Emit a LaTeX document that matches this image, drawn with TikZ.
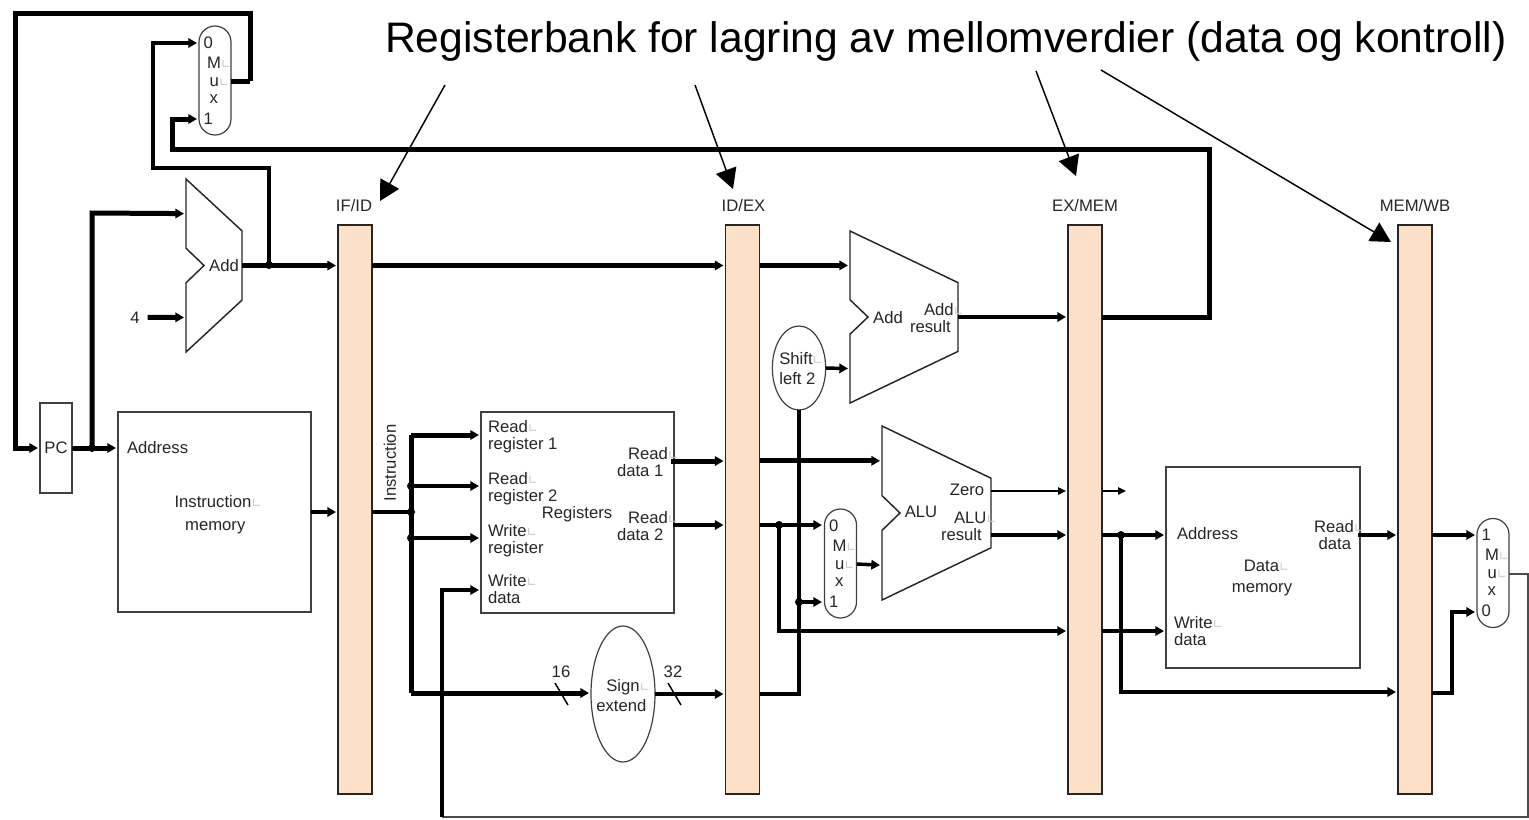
\documentclass[tikz,border=0pt]{standalone}
\usepackage{fontspec}
\setmainfont{Liberation Sans}
\newfontfamily\symfont{DejaVu Sans}
\usetikzlibrary{arrows.meta,shapes.geometric,calc}
\makeatletter
\pgfdeclareshape{adderbox}{%
  \inheritsavedanchors[from=rectangle]
  \inheritanchorborder[from=rectangle]
  \inheritanchor[from=rectangle]{center}
  \inheritanchor[from=rectangle]{north}
  \inheritanchor[from=rectangle]{south}
  \inheritanchor[from=rectangle]{east}
  \inheritanchor[from=rectangle]{west}
  \anchor{upper}{\southwest\pgf@xa=\pgf@x\pgf@yb=\pgf@y\northeast\pgf@ya=\pgf@y
    \pgf@x=\pgf@xa\pgf@y=\dimexpr0.8\pgf@ya+0.2\pgf@yb\relax}
  \anchor{lower}{\southwest\pgf@xa=\pgf@x\pgf@yb=\pgf@y\northeast\pgf@ya=\pgf@y
    \pgf@x=\pgf@xa\pgf@y=\dimexpr0.2\pgf@ya+0.8\pgf@yb\relax}
  \backgroundpath{%
    \southwest\edef\my@ax{\the\pgf@x}\edef\my@ay{\the\pgf@y}%
    \northeast\edef\my@bx{\the\pgf@x}\edef\my@by{\the\pgf@y}%
    \edef\my@n{\the\dimexpr\my@ax+13.5pt\relax}%
    \edef\my@m{\the\dimexpr(\my@ay+\my@by)/2\relax}%
    \edef\my@na{\the\dimexpr(\my@by*6+\my@ay*4)/10\relax}%
    \edef\my@nb{\the\dimexpr(\my@by*4+\my@ay*6)/10\relax}%
    \edef\my@ra{\the\dimexpr(\my@by*7+\my@ay*3)/10\relax}%
    \edef\my@rb{\the\dimexpr(\my@by*3+\my@ay*7)/10\relax}%
    \pgfpathmoveto{\pgfqpoint{\my@ax}{\my@by}}%
    \pgfpathlineto{\pgfqpoint{\my@bx}{\my@ra}}%
    \pgfpathlineto{\pgfqpoint{\my@bx}{\my@rb}}%
    \pgfpathlineto{\pgfqpoint{\my@ax}{\my@ay}}%
    \pgfpathlineto{\pgfqpoint{\my@ax}{\my@nb}}%
    \pgfpathlineto{\pgfqpoint{\my@n}{\my@m}}%
    \pgfpathlineto{\pgfqpoint{\my@ax}{\my@na}}%
    \pgfpathclose
  }%
}
\makeatother
\definecolor{barfill}{HTML}{FCE1C8}
\definecolor{inkc}{HTML}{262626}
\newcommand\ml{{\symfont\fontsize{9}{9}\selectfont\color{black!22}∟}}
\newcommand\muxtext[2]{\hspace{3.5pt}#1\\[2.25pt]\hspace{6pt}M\ml\\[.75pt]\hspace{8pt}u\ml\\\hspace{8pt}x\\[3pt]\hspace{3.5pt}#2}
\tikzset{
  x=0.75pt,y=-0.75pt,
  txt/.style={font=\fontsize{12.5}{12.75}\selectfont,text=inkc,inner sep=0,outer sep=0,align=left},
  lab/.style={txt,yshift=-1pt},
  bar/.style={draw=black!85,line width=1.1pt,fill=barfill,inner sep=0,outer sep=0,minimum width=25.5pt,minimum height=427pt},
  box/.style={draw=black!75,line width=.9pt,inner sep=0,outer sep=0},
  adder/.style={adderbox,draw=black!85,line width=1.1pt,inner sep=0,outer sep=0},
  mux/.style={rectangle,draw=black!75,line width=.9pt,rounded corners=12pt,minimum width=24pt,minimum height=81.75pt,inner sep=0,outer sep=0,txt},
  oval/.style={ellipse,draw=black!75,line width=.9pt,inner sep=0,outer sep=0},
  dot/.style={circle,fill=black,inner sep=0,outer sep=0,minimum size=6pt},
  w5/.style={line width=3.75pt},
  w4/.style={line width=3.2pt},
  w3/.style={line width=2.6pt},
  w1/.style={line width=1.1pt},
  tip/.style={-{Triangle[length=6.5pt,width=7pt]},shorten >=1.5pt},
  smalltip/.style={-{Triangle[length=6pt,width=5.5pt]},shorten >=1.5pt},
  bigtip/.style={-{Triangle[length=15pt,width=16pt]}},
}
\begin{document}
\begin{tikzpicture}
\useasboundingbox (0,0) rectangle (1529,819);
% pipeline registers
\node[bar] (ifid) at (355,509.5) {};
\node[bar] (idex) at (742.5,509.5) {};
\node[bar] (exmem) at (1085,509.5) {};
\node[bar] (memwb) at (1415,509.5) {};
\node[lab] (ifidL) at (354,204) {IF/ID};
\node[lab] (idexL) at (743.5,204) {ID/EX};
\node[lab] (exmemL) at (1085,204) {EX/MEM};
\node[lab] (memwbL) at (1415,204) {MEM/WB};
% heading
\node[txt,font=\fontsize{32}{34}\selectfont,text=black] (head) at (946,41) {Registerbank for lagring av mellomverdier (data og kontroll)};
\coordinate (h1) at (445,85);
\coordinate (h2) at (695,85);
\coordinate (h3) at (1036,71);
\coordinate (h4) at (1101,70);
\coordinate (t1) at (380,201);
\coordinate (t2) at (733,189);
\coordinate (t3) at (1076,176);
\coordinate (t4) at (1391,242);
\draw[w1,bigtip] (h1) -- (t1);
\draw[w1,bigtip] (h2) -- (t2);
\draw[w1,bigtip] (h3) -- (t3);
\draw[w1,bigtip] (h4) -- (t4);
% main blocks
\node[box,minimum width=24pt,minimum height=67.5pt,txt] (pc) at (56,448) {PC};
\node[box,minimum width=144.75pt,minimum height=150pt] (imem) at (214.5,512) {};
\node[box,minimum width=144.75pt,minimum height=150.75pt] (regs) at (577.5,512.5) {};
\node[box,minimum width=145.5pt,minimum height=150.75pt] (dmem) at (1263,567.5) {};
\node[adder,minimum width=42pt,minimum height=129.75pt] (addA) at (214,265.5) {};
\node[adder,minimum width=81pt,minimum height=129pt] (addB) at (904,317) {};
\node[adder,minimum width=81.75pt,minimum height=130.5pt] (alu) at (936.5,513) {};
\node[mux] (muxA) at (215,80.5) {\muxtext{0}{1}};
\node[mux] (muxB) at (840.5,563.5) {\muxtext{0}{1}};
\node[mux] (muxC) at (1493,573) {\muxtext{1}{0}};
\node[oval,minimum width=40pt,minimum height=63pt] (shift) at (799,368) {};
\node[oval,minimum width=48pt,minimum height=102pt] (sign) at (623,694) {};
% block labels
\node[lab] (lShift) at (801,367.5) {Shift\ml\\[2pt]left 2};
\node[lab] (lSign) at (623,694) {\hspace{7.5pt}Sign\ml\\[2pt]extend};
\node[lab,anchor=west] (lAddr) at (127,446) {Address};
\node[lab] (lImem) at (218,513.5) {Instruction\ml\\[4.5pt]\hspace{8pt}memory};
\node[txt,rotate=90] (lInstr) at (390,463) {Instruction};
\node[lab,anchor=west] (lR1) at (488,435) {Read\ml\\register 1};
\node[lab,anchor=west] (lR2) at (488,487) {Read\ml\\register 2};
\node[lab,anchor=west] (lW1) at (488,539) {Write\ml\\register};
\node[lab,anchor=west] (lW2) at (488,588) {Write\ml\\data};
\node[lab] (lRegs) at (577,513) {Registers};
\node[lab,anchor=west] (lD1) at (617,461) {\hspace{8.25pt}Read\ml\\data 1};
\node[lab,anchor=west] (lD2) at (617,524.5) {\hspace{8.25pt}Read\ml\\data 2};
\node[lab] (l16) at (561,670) {16};
\node[lab] (l32) at (673,670) {32};
\node[lab] (lAddA) at (224,264) {Add};
\node[lab] (l4) at (135,316) {4};
\node[lab] (lAddB) at (888,316) {Add};
\node[lab,anchor=west] (lAddR) at (910,316.5) {\hspace{10.5pt}Add\ml\\result};
\node[lab] (lAlu) at (921,511) {ALU};
\node[lab] (lZero) at (967,489) {Zero};
\node[lab,anchor=west] (lAluR) at (941,525.5) {\hspace{9.75pt}ALU\ml\\result};
\node[lab,anchor=west] (lDA) at (1177,532) {Address};
\node[lab] (lDm) at (1262,576.5) {\hspace{9pt}Data\ml\\[3pt]memory};
\node[lab,anchor=west] (lDW) at (1174,629.5) {Write\ml\\data};
\node[lab,anchor=west] (lDR) at (1314,533.5) {Read\ml\\\hspace{3.5pt}data};
% junction dots
\node[dot] (dPC1) at (92,448) {};
\node[dot] (dAdd) at (269,265) {};
\node[dot] (dI0) at (411,512) {};
\node[dot] (dI1) at (411,486) {};
\node[dot] (dI2) at (411,538) {};
\node[dot] (dRd2) at (779,525) {};
\node[dot] (dSx) at (799,602) {};
\node[dot] (dAl) at (1121,535) {};
% connector corner points
\coordinate (a1) at (250,81);
\coordinate (a2) at (250,13);
\coordinate (a3) at (15,13);
\coordinate (a4) at (15,448);
\coordinate (b1) at (153,168);
\coordinate (c1) at (1209,317);
\coordinate (c2) at (1209,149);
\coordinate (c3) at (172,149);
\coordinate (c4) at (172,119);
\coordinate (m1in) at (199,43);
\coordinate (m1in2) at (199,119);
\coordinate (i0) at (411,435);
\coordinate (i3) at (411,693);
\coordinate (rR1) at (481,435);
\coordinate (rR2) at (481,486);
\coordinate (rW1) at (481,538);
\coordinate (rW2) at (481,590);
\coordinate (rd1) at (671,461);
\coordinate (rd2) at (673,525);
\coordinate (sxin) at (591,693);
\coordinate (sxout) at (655,694);
\coordinate (e1) at (799,694);
\coordinate (mbin0) at (824,525);
\coordinate (mbin1) at (824,602);
\coordinate (mbout) at (857,564);
\coordinate (f1) at (779,631);
\coordinate (zo) at (991,491);
\coordinate (zf) at (1128,491);
\coordinate (ar) at (991,535);
\coordinate (da) at (1166,535);
\coordinate (dw) at (1166,631);
\coordinate (g1) at (1121,692);
\coordinate (dr) at (1358,535);
\coordinate (mc1) at (1477,535);
\coordinate (mc0) at (1477,612);
\coordinate (h5) at (1452,693);
\coordinate (h6) at (1452,612);
\coordinate (mcout) at (1509,574);
\coordinate (w1) at (1528,574);
\coordinate (w2) at (1528,817);
\coordinate (w3) at (442,817);
\coordinate (w4) at (442,590);
% tick marks
\coordinate (k1a) at (555,683); \coordinate (k1b) at (568,705);
\coordinate (k2a) at (668,683); \coordinate (k2b) at (681,705);
\draw[w1] (k1a) -- (k1b);
\draw[w1] (k2a) -- (k2b);
% connectors: fetch
\draw[w5,tip] (a1) -- (a2) -- (a3) -- (a4) -- (pc.west);
\draw[w5] (muxA.east |- a1) -- (a1);
\draw[w5,tip] (pc.east) -- (imem.west |- pc.east);
\draw[w5,tip] (dPC1.center) -- (92,213) -- (addA.upper);
\draw[w5,tip] (l4.east) ++(8,0) -- (addA.lower);
\draw[w4,tip] (addA.east) -- (ifid.west |- addA.east);
\draw[w3,tip] (dAdd.center) -- (269,168) -- (b1) -- (153,43) -- (m1in);
\draw[w4,tip] (ifid.east |- addA.east) -- (idex.west |- addA.east);
\draw[w4,tip] (idex.east |- addB.upper) -- (addB.upper);
\draw[w3,tip] (addB.east) -- (exmem.west |- addB.east);
\draw[w5,tip] (exmem.east |- c1) -- (c1) -- (c2) -- (c3) -- (c4) -- (m1in2);
% connectors: decode
\draw[w3,tip] (imem.east) -- (ifid.west |- imem.east);
\draw[w3] (ifid.east |- dI0) -- (dI0.center);
\draw[w5] (i0) -- (i3);
\draw[w5,tip] (i0) -- (rR1);
\draw[w4,tip] (dI1.center) -- (rR2);
\draw[w4,tip] (dI2.center) -- (rW1);
\draw[w5,tip] (i3) -- (sxin);
\draw[w3,tip] (sxout) -- (idex.west |- sxout);
\draw[w5,tip] (rd1) -- (idex.west |- rd1);
\draw[w3,tip] (rd2) -- (idex.west |- rd2);
\draw[w1,draw=black!70] (mcout) -- (w1) -- (w2) -- (w3);
\draw[w3,tip] (w3) -- (w4) -- (rW2);
% connectors: execute
\draw[w5,tip] (idex.east |- alu.upper) -- (alu.upper);
\draw[w3,tip] (idex.east |- dRd2) -- (mbin0);
\draw[w4,tip] (dRd2.center) -- (f1) -- (exmem.west |- f1);
\draw[w4] (idex.east |- e1) -- (e1) -- (shift.south);
\draw[w3,tip] (dSx.center) -- (mbin1);
\draw[w3,tip] (mbout) -- (alu.lower);
\draw[w3,tip] (shift.east) -- (addB.lower);
\draw[w1,smalltip] (zo) -- (exmem.west |- zo);
\draw[w1,smalltip] (exmem.east |- zo) -- (zf);
\draw[w3,tip] (ar) -- (exmem.west |- ar);
% connectors: memory / write back
\draw[w4,tip] (exmem.east |- da) -- (da);
\draw[w4,tip] (exmem.east |- dw) -- (dw);
\draw[w4,tip] (dAl.center) -- (g1) -- (memwb.west |- g1);
\draw[w3,tip] (dr) -- (memwb.west |- dr);
\draw[w3,tip] (memwb.east |- mc1) -- (mc1);
\draw[w3,tip] (memwb.east |- h5) -- (h5) -- (h6) -- (mc0);
\end{tikzpicture}
\end{document}
